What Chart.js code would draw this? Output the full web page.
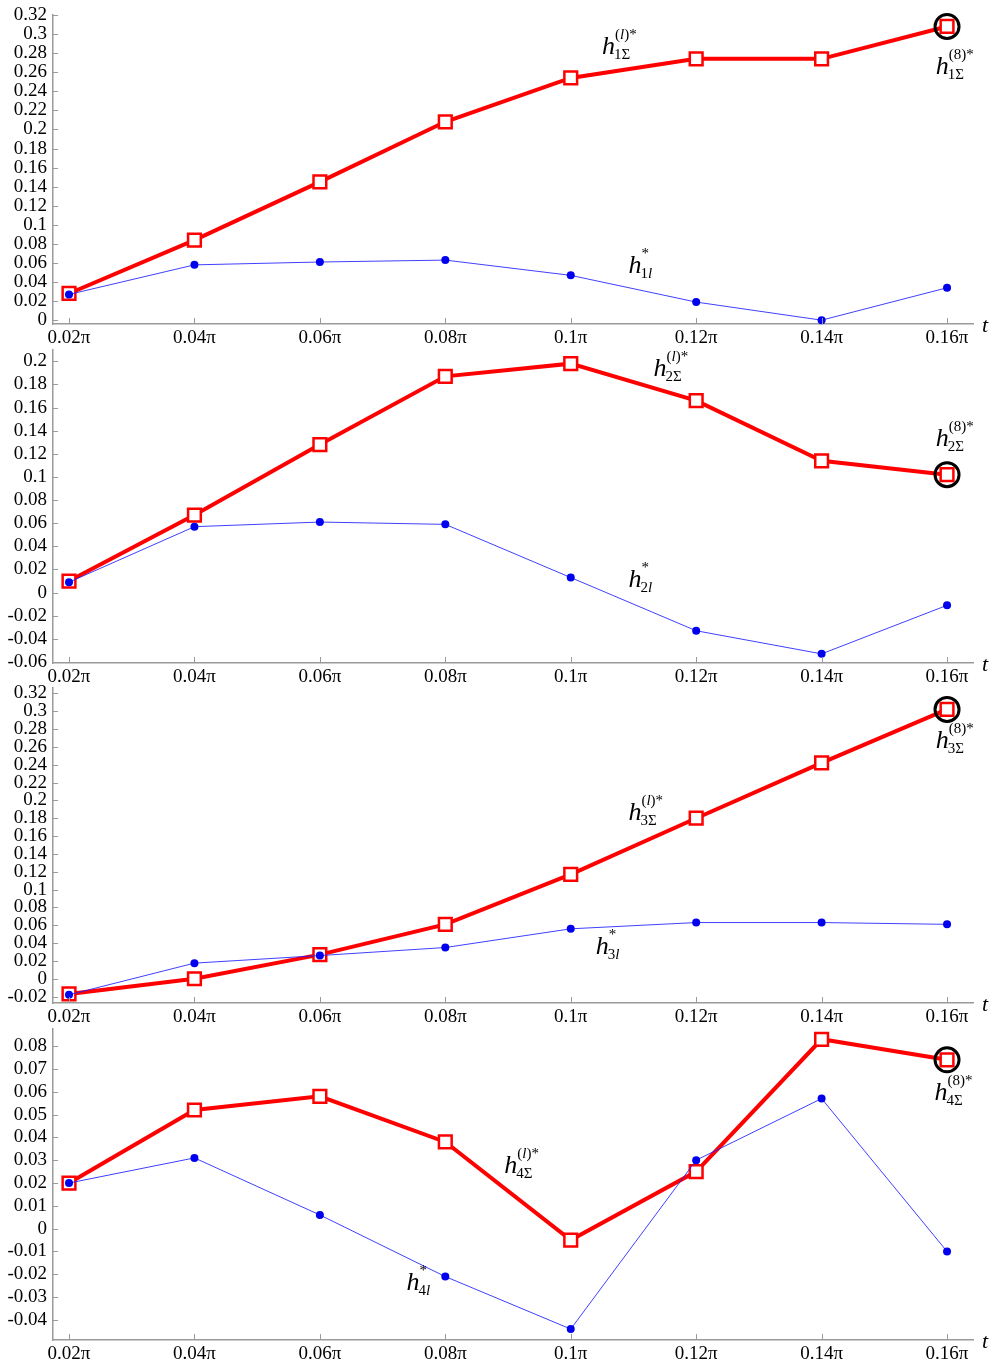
<!DOCTYPE html>
<html>
<head>
<meta charset="utf-8">
<script src="https://cdn.jsdelivr.net/npm/chart.js@4.4.1/dist/chart.umd.min.js"></script>
<style>
  html, body { margin: 0; padding: 0; background: #fff; }
  body { width: 993px; height: 1366px; position: relative; overflow: hidden; }
  canvas { position: absolute; left: 0; }
</style>
</head>
<body>
<canvas id="c1" width="993" height="350" style="top:0px"></canvas>
<canvas id="c2" width="993" height="354" style="top:335px"></canvas>
<canvas id="c3" width="993" height="356" style="top:673px"></canvas>
<canvas id="c4" width="993" height="352" style="top:1014px"></canvas>
<script>
// t values
var categories = ['0.02π', '0.04π', '0.06π', '0.08π', '0.1π', '0.12π', '0.14π', '0.16π'];

// red: h_kΣ^(l)*, blue: h_kl^*
var h1Sum = [0.028, 0.084, 0.145, 0.208, 0.254, 0.274, 0.274, 0.308];
var h1l   = [0.027, 0.058, 0.061, 0.063, 0.047, 0.019, 0.000, 0.034];
var h2Sum = [0.010, 0.067, 0.128, 0.187, 0.198, 0.166, 0.114, 0.102];
var h2l   = [0.009, 0.057, 0.061, 0.059, 0.013, -0.033, -0.053, -0.011];
var h3Sum = [-0.017, 0.000, 0.027, 0.061, 0.117, 0.180, 0.242, 0.302];
var h3l   = [-0.018, 0.0175, 0.026, 0.035, 0.056, 0.063, 0.063, 0.061];
var h4Sum = [0.020, 0.052, 0.058, 0.038, -0.005, 0.025, 0.083, 0.074];
var h4l   = [0.020, 0.031, 0.006, -0.021, -0.044, 0.030, 0.057, -0.010];

var yTicks1 = [0, 0.02, 0.04, 0.06, 0.08, 0.1, 0.12, 0.14, 0.16, 0.18, 0.2, 0.22, 0.24, 0.26, 0.28, 0.3, 0.32];
var yTicks2 = [-0.06, -0.04, -0.02, 0, 0.02, 0.04, 0.06, 0.08, 0.1, 0.12, 0.14, 0.16, 0.18, 0.2];
var yTicks3 = [-0.02, 0, 0.02, 0.04, 0.06, 0.08, 0.1, 0.12, 0.14, 0.16, 0.18, 0.2, 0.22, 0.24, 0.26, 0.28, 0.3, 0.32];
var yTicks4 = [-0.04, -0.03, -0.02, -0.01, 0, 0.01, 0.02, 0.03, 0.04, 0.05, 0.06, 0.07, 0.08];

var FONT = '"Liberation Serif", "DejaVu Serif", serif';
var AXIS = '#9a9a9a';

var SUP_L = [['(', false], ['l', true], [')*', false]];
var SUP_8 = [['(8)*', false]];
var SUP_S = [['*', false]];

function subSum(n) { return [[n, false], ['Σ', false]]; }
function subL(n) { return [[n, false], ['l', true]]; }

var panels = [
  { id: 'c1', sum: h1Sum, l: h1l, ticks: yTicks1, min: -0.004, max: 0.32, padTop: 13,
    notes: [{ x: 4.25, y: 0.279, sup: SUP_L, sub: subSum('1') },
            { x: 6.91, y: 0.258, sup: SUP_8, sub: subSum('1') },
            { x: 4.46, y: 0.049, sup: SUP_S, sub: subL('1') }] },
  { id: 'c2', sum: h2Sum, l: h2l, ticks: yTicks2, min: -0.0609, max: 0.2098, padTop: 15,
    notes: [{ x: 4.66, y: 0.187, sup: SUP_L, sub: subSum('2') },
            { x: 6.91, y: 0.127, sup: SUP_8, sub: subSum('2') },
            { x: 4.46, y: 0.005, sup: SUP_S, sub: subL('2') }] },
  { id: 'c3', sum: h3Sum, l: h3l, ticks: yTicks3, min: -0.0272, max: 0.326, padTop: 15,
    notes: [{ x: 4.46, y: 0.178, sup: SUP_L, sub: subSum('3') },
            { x: 6.91, y: 0.259, sup: SUP_8, sub: subSum('3') },
            { x: 4.20, y: 0.028, sup: SUP_S, sub: subL('3') }] },
  { id: 'c4', sum: h4Sum, l: h4l, ticks: yTicks4, min: -0.0488, max: 0.0875, padTop: 15,
    notes: [{ x: 3.47, y: 0.0244, sup: SUP_L, sub: subSum('4') },
            { x: 6.90, y: 0.0564, sup: SUP_8, sub: subSum('4') },
            { x: 2.69, y: -0.0268, sup: SUP_S, sub: subL('4') }] }
];

function drawPieces(ctx, pieces, x, y, size) {
  pieces.forEach(function (p) {
    ctx.font = (p[1] ? 'italic ' : '') + size + 'px ' + FONT;
    ctx.fillText(p[0], x, y);
    x += ctx.measureText(p[0]).width;
  });
}

function drawH(ctx, x, y, sup, sub) {
  ctx.fillStyle = '#000';
  ctx.textAlign = 'left';
  ctx.textBaseline = 'alphabetic';
  ctx.font = 'italic 26px ' + FONT;
  ctx.fillText('h', x, y);
  drawPieces(ctx, sup, x + 13, y - 15, 15);
  drawPieces(ctx, sub, x + 12, y + 5, 15);
}

var extras = {
  id: 'extras',
  afterDraw: function (chart, args, opts) {
    var ctx = chart.ctx;
    var xs = chart.scales.x, ys = chart.scales.y;
    var area = chart.chartArea;
    ctx.save();
    // tick marks pointing inwards
    ctx.strokeStyle = AXIS;
    ctx.lineWidth = 1;
    ctx.beginPath();
    ys.ticks.forEach(function (t) {
      var py = Math.round(ys.getPixelForValue(t.value)) + 0.5;
      ctx.moveTo(area.left, py);
      ctx.lineTo(area.left + 5, py);
    });
    xs.ticks.forEach(function (t) {
      var px = Math.round(xs.getPixelForValue(t.value)) + 0.5;
      ctx.moveTo(px, area.bottom);
      ctx.lineTo(px, area.bottom - 6);
    });
    ctx.stroke();
    // axis name
    ctx.fillStyle = '#000';
    ctx.font = 'italic 22px ' + FONT;
    ctx.textAlign = 'left';
    ctx.textBaseline = 'alphabetic';
    ctx.fillText('t', area.right + 9, area.bottom + 8);
    // curve names
    opts.notes.forEach(function (n) {
      drawH(ctx, xs.getPixelForValue(n.x), ys.getPixelForValue(n.y), n.sup, n.sub);
    });
    ctx.restore();
  }
};

function fmt(v) {
  return String(+Number(v).toFixed(3));
}

panels.forEach(function (p) {
  var last = p.sum.length - 1;
  var ringData = p.sum.map(function (v, i) { return i === last ? v : null; });
  var pts = function (arr) { return arr.map(function (v, i) { return { x: i, y: v }; }); };

  new Chart(document.getElementById(p.id), {
    type: 'line',
    data: {
      datasets: [
        {
          data: pts(ringData),
          showLine: false,
          pointStyle: 'circle',
          pointRadius: 12,
          pointBorderWidth: 3,
          pointBorderColor: '#000',
          pointBackgroundColor: 'rgba(0,0,0,0)',
          clip: false
        },
        {
          data: pts(p.l),
          borderColor: 'rgba(30,30,255,0.85)',
          borderWidth: 1,
          pointStyle: 'circle',
          pointRadius: 4,
          pointBorderWidth: 0,
          pointBackgroundColor: '#0000ee',
          tension: 0,
          clip: false
        },
        {
          data: pts(p.sum),
          borderColor: '#ff0000',
          borderWidth: 4,
          pointStyle: 'rect',
          pointRadius: 9,
          pointBorderWidth: 2.5,
          pointBorderColor: '#ff0000',
          pointBackgroundColor: '#ffffff',
          tension: 0,
          clip: false
        }
      ]
    },
    options: {
      responsive: false,
      animation: false,
      events: [],
      layout: { padding: { top: p.padTop, right: 20, left: 0, bottom: 0 } },
      plugins: {
        legend: { display: false },
        tooltip: { enabled: false },
        extras: { notes: p.notes }
      },
      scales: {
        x: {
          type: 'linear',
          min: -0.1276,
          max: 7.207,
          grid: { display: false, drawTicks: false },
          border: { display: true, color: AXIS, width: 1.5 },
          afterBuildTicks: function (scale) {
            scale.ticks = categories.map(function (c, i) { return { value: i }; });
          },
          afterFit: function (scale) {
            scale.height = 26;
            scale.paddingLeft = 0;
            scale.paddingRight = 0;
          },
          ticks: {
            autoSkip: false,
            maxRotation: 0,
            padding: 3,
            color: '#000',
            font: { family: FONT, size: 19 },
            callback: function (value) { return categories[Math.round(value)]; }
          }
        },
        y: {
          min: p.min,
          max: p.max,
          grid: { display: false, drawTicks: false },
          border: { display: true, color: AXIS, width: 1.5 },
          afterBuildTicks: function (scale) {
            scale.ticks = p.ticks.map(function (v) { return { value: v }; });
          },
          afterFit: function (scale) {
            scale.width = 53;
            scale.paddingTop = 0;
            scale.paddingBottom = 0;
          },
          ticks: {
            autoSkip: false,
            padding: 6,
            color: '#000',
            font: { family: FONT, size: 19 },
            callback: function (value) { return fmt(value); }
          }
        }
      }
    },
    plugins: [extras]
  });
});
</script>
</body>
</html>
